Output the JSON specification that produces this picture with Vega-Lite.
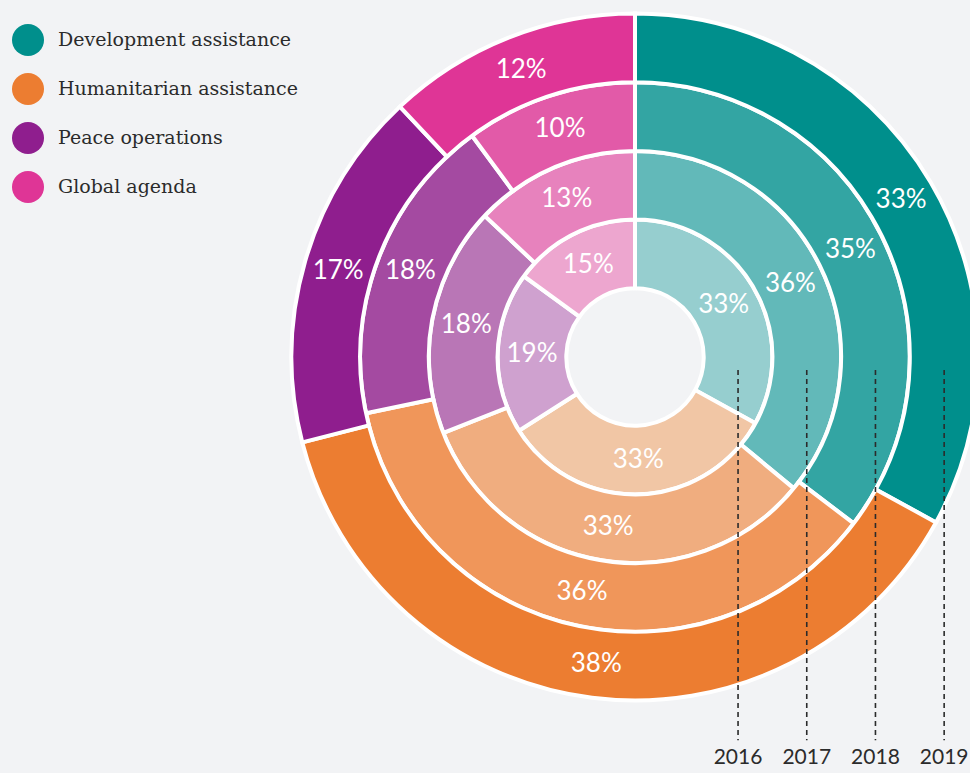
{
  "$schema": "https://vega.github.io/schema/vega-lite/v6.json",
  "width": 970,
  "height": 773,
  "autosize": {"type": "none"},
  "padding": 0,
  "background": "#F2F3F5",
  "config": {"view": {"stroke": null}},
  "data": {
    "values": [
      {"cat": "Development assistance", "year": 2016, "pct": 33},
      {"cat": "Humanitarian assistance", "year": 2016, "pct": 33},
      {"cat": "Peace operations", "year": 2016, "pct": 19},
      {"cat": "Global agenda", "year": 2016, "pct": 15},
      {"cat": "Development assistance", "year": 2017, "pct": 36},
      {"cat": "Humanitarian assistance", "year": 2017, "pct": 33},
      {"cat": "Peace operations", "year": 2017, "pct": 18},
      {"cat": "Global agenda", "year": 2017, "pct": 13},
      {"cat": "Development assistance", "year": 2018, "pct": 35},
      {"cat": "Humanitarian assistance", "year": 2018, "pct": 36},
      {"cat": "Peace operations", "year": 2018, "pct": 18},
      {"cat": "Global agenda", "year": 2018, "pct": 10},
      {"cat": "Development assistance", "year": 2019, "pct": 33},
      {"cat": "Humanitarian assistance", "year": 2019, "pct": 38},
      {"cat": "Peace operations", "year": 2019, "pct": 17},
      {"cat": "Global agenda", "year": 2019, "pct": 12}
    ]
  },
  "transform": [
    {"calculate": "datum.cat + ' ' + datum.year", "as": "key"},
    {"calculate": "indexof(['Development assistance','Humanitarian assistance','Peace operations','Global agenda'], datum.cat)", "as": "ord"},
    {"stack": "pct", "groupby": ["year"], "sort": [{"field": "ord", "order": "ascending"}], "offset": "normalize", "as": ["t0", "t1"]},
    {"calculate": "(datum.t0 + datum.t1) / 2", "as": "tmid"},
    {"calculate": "datum.year - 1", "as": "r_in"},
    {"calculate": "datum.year - 0.5", "as": "rmid"},
    {"calculate": "datum.pct + '%'", "as": "label"}
  ],
  "layer": [
    {
      "mark": {"type": "arc", "stroke": "white", "strokeWidth": 4},
      "encoding": {
        "x": {"datum": 2014, "type": "quantitative", "scale": {"domain": [2014, 2019], "range": [635, 978.5], "zero": false}, "axis": null},
        "y": {"datum": 2014, "type": "quantitative", "scale": {"domain": [2014, 2019], "range": [357, 700.5], "zero": false}, "axis": null},
        "theta": {"field": "t0", "type": "quantitative", "scale": {"domain": [0, 1], "range": [0, 6.283185307]}},
        "theta2": {"field": "t1"},
        "radius": {"field": "year", "type": "quantitative", "scale": {"type": "linear", "domain": [2014, 2019], "range": [0, 343.5], "zero": false}},
        "radius2": {"field": "r_in"},
        "color": {
          "field": "key",
          "type": "nominal",
          "scale": {
            "domain": [
              "Development assistance 2019", "Humanitarian assistance 2019", "Peace operations 2019", "Global agenda 2019",
              "Development assistance 2018", "Humanitarian assistance 2018", "Peace operations 2018", "Global agenda 2018",
              "Development assistance 2017", "Humanitarian assistance 2017", "Peace operations 2017", "Global agenda 2017",
              "Development assistance 2016", "Humanitarian assistance 2016", "Peace operations 2016", "Global agenda 2016"
            ],
            "range": [
              "#008F8C", "#EC7D31", "#8F1E8E", "#DF3596",
              "#33A5A3", "#F0965A", "#A44AA1", "#E25AA8",
              "#62B9B9", "#F0AD7F", "#B976B6", "#E782BD",
              "#96CECF", "#F1C6A5", "#CFA1CF", "#EDA6CF"
            ]
          },
          "legend": {
            "values": ["Development assistance 2019", "Humanitarian assistance 2019", "Peace operations 2019", "Global agenda 2019"],
            "labelExpr": "substring(datum.label, 0, length(datum.label) - 5)",
            "title": null,
            "orient": "none",
            "legendX": 12,
            "legendY": 24,
            "symbolType": "circle",
            "symbolSize": 1024,
            "symbolStrokeWidth": 0,
            "symbolOpacity": 1,
            "labelFont": "DejaVu Serif",
            "labelFontSize": 19,
            "labelColor": "#2b2b2b",
            "labelOffset": 14,
            "rowPadding": 17,
            "labelLimit": 400
          }
        }
      }
    },
    {
      "mark": {"type": "text", "color": "white", "font": "Lato", "fontSize": 26, "align": "center", "baseline": "middle"},
      "encoding": {
        "x": {"datum": 2014, "type": "quantitative"},
        "y": {"datum": 2014, "type": "quantitative"},
        "theta": {"field": "tmid", "type": "quantitative"},
        "radius": {"field": "rmid", "type": "quantitative"},
        "text": {"field": "label"}
      }
    },
    {
      "transform": [{"filter": "datum.cat == 'Development assistance'"}],
      "mark": {"type": "rule", "color": "#2b2b2b", "strokeWidth": 1.6, "strokeDash": [5, 4]},
      "encoding": {
        "x": {"field": "rmid", "type": "quantitative"},
        "y": {"datum": 2014.19, "type": "quantitative"},
        "y2": {"datum": 2019.58}
      }
    },
    {
      "transform": [{"filter": "datum.cat == 'Development assistance'"}],
      "mark": {"type": "text", "color": "#2b2b2b", "font": "Lato", "fontSize": 21, "align": "center", "baseline": "middle"},
      "encoding": {
        "x": {"field": "rmid", "type": "quantitative"},
        "y": {"datum": 2019.84, "type": "quantitative"},
        "text": {"field": "year", "type": "nominal"}
      }
    }
  ]
}
